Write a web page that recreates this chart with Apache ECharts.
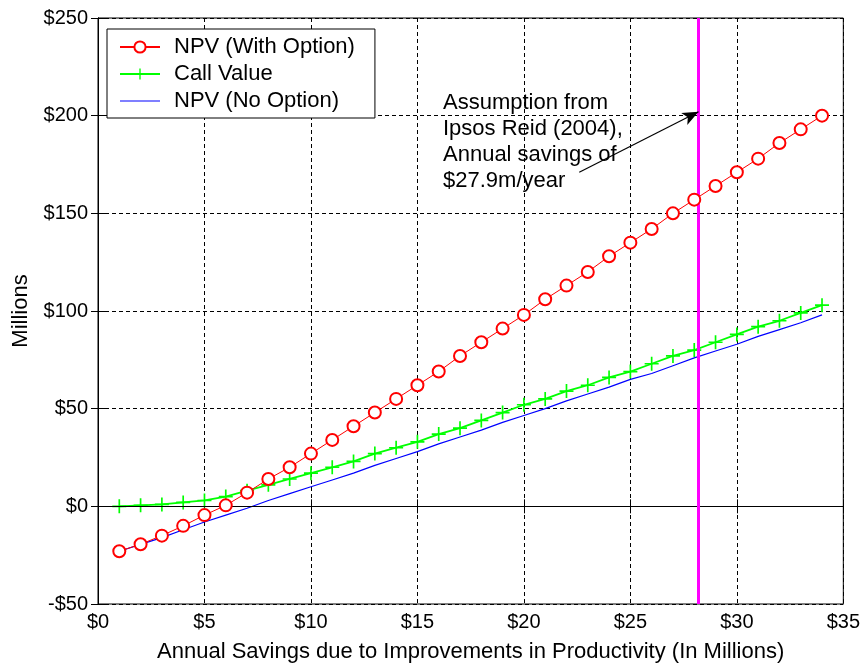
<!DOCTYPE html>
<html>
<head>
<meta charset="utf-8">
<script src="https://cdn.jsdelivr.net/npm/echarts@6/dist/echarts.min.js"></script>
<style>
  html, body { margin: 0; padding: 0; background: #fff; }
  #main { width: 863px; height: 668px; }
</style>
</head>
<body>
<div id="main"></div>
<script>
const savings = [1, 2, 3, 4, 5, 6, 7, 8, 9, 10, 11, 12, 13, 14, 15, 16, 17,
  18, 19, 20, 21, 22, 23, 24, 25, 26, 27, 28, 29, 30, 31, 32, 33, 34];
const npvWithOption = [-23, -19.4, -15, -10, -4.5, 0.5, 7, 14, 20, 27, 34, 41,
  48, 55, 62, 69, 77, 84, 91, 98, 106, 113, 120, 128, 135, 142, 150, 157, 164,
  171, 178, 186, 193, 200];
const callValue = [0, 0.5, 1, 2, 3, 5, 8, 11, 14, 17, 20, 23, 27, 30, 33, 37,
  40, 44, 48, 52, 55, 59, 62, 66, 69, 73, 77, 80, 84, 88, 92, 95, 99, 103];
const npvNoOption = [-23, -19.5, -16, -12, -8, -4.5, -1, 3, 6.5, 10, 13.5, 17,
  21, 24.5, 28, 32, 35.5, 39, 43, 46.5, 50, 54, 57.5, 61, 65, 68, 72, 76, 79.5,
  83, 87, 90.5, 94, 98];
const xTicks = [0, 5, 10, 15, 20, 25, 30, 35];
const yTicks = [-50, 0, 50, 100, 150, 200, 250];
const assumptionX = 28.2;
const arrowFrom = [22.6, 171];
const arrowTo = [28.2, 202];
const noteLines = ['Assumption from', 'Ipsos Reid (2004),', 'Annual savings of', '$27.9m/year'];

const font = 'Arial, "Liberation Sans", sans-serif';
const grid = { left: 98, right: 19, top: 18, bottom: 62 };
const dash = { color: '#000', width: 1, type: [4, 3] };
// plain line icon for the series without markers (tiny corner dots fix the box size)
const lineIcon = 'path://M0,0h0.1v0.1h-0.1z M0,6.4h40v1.2h-40z M39.9,13.9h0.1v0.1h-0.1z';

function pairs(ys) {
  return savings.map((x, i) => [x, ys[i]]);
}

const chart = echarts.init(document.getElementById('main'), null, { renderer: 'canvas' });

const xBase = {
  type: 'value', min: xTicks[0], max: xTicks[xTicks.length - 1], interval: 5
};
const yBase = {
  type: 'value', min: yTicks[0], max: yTicks[yTicks.length - 1], interval: 50
};
const tick = { show: true, inside: true, length: 7, lineStyle: { color: '#000' } };

chart.setOption({
  animation: false,
  backgroundColor: '#fff',
  textStyle: { fontFamily: font },
  grid: Object.assign({ show: true, borderColor: '#000', borderWidth: 1, backgroundColor: 'transparent' }, grid),
  legend: {
    left: 107, top: 29, orient: 'vertical',
    itemWidth: 40, itemHeight: 14, itemGap: 5,
    padding: [7, 20, 6, 12],
    borderColor: '#000', borderWidth: 1, backgroundColor: '#fff',
    textStyle: { fontFamily: font, fontSize: 22, lineHeight: 22, color: '#000', padding: [0, 0, 0, 9] },
    data: [
      'NPV (With Option)',
      'Call Value',
      { name: 'NPV (No Option)', icon: lineIcon }
    ]
  },
  xAxis: [
    Object.assign({}, xBase, {
      name: 'Annual Savings due to Improvements in Productivity (In Millions)',
      nameLocation: 'middle', nameGap: 37,
      nameTextStyle: { fontFamily: font, fontSize: 22, color: '#000' },
      axisLine: { show: true, lineStyle: { color: '#000' } },
      axisTick: tick,
      axisLabel: { fontFamily: font, fontSize: 20, color: '#000', margin: 8, formatter: v => '$' + v },
      splitLine: { show: true, lineStyle: dash }
    }),
    Object.assign({}, xBase, {
      position: 'top',
      axisLine: { show: true, lineStyle: { color: '#000' } },
      axisTick: tick,
      axisLabel: { show: false },
      splitLine: { show: false }
    })
  ],
  yAxis: [
    Object.assign({}, yBase, {
      name: 'Millions', nameLocation: 'middle', nameGap: 66, nameRotate: 90,
      nameTextStyle: { fontFamily: font, fontSize: 22, color: '#000' },
      axisLine: { show: true, lineStyle: { color: '#000' } },
      axisTick: tick,
      axisLabel: { fontFamily: font, fontSize: 20, color: '#000', margin: 10, formatter: v => (v < 0 ? '-$' + (-v) : '$' + v) },
      splitLine: { show: true, lineStyle: dash }
    }),
    Object.assign({}, yBase, {
      position: 'right',
      axisLine: { show: true, lineStyle: { color: '#000' } },
      axisTick: tick,
      axisLabel: { show: false },
      splitLine: { show: false }
    })
  ],
  series: [
    {
      name: 'NPV (No Option)', type: 'line', data: pairs(npvNoOption),
      symbol: 'none', color: '#0000ff',
      lineStyle: { color: '#0000ff', width: 1.2 }, z: 3,
      markLine: {
        silent: true, animation: false, symbol: 'none',
        label: { show: false },
        data: [
          { yAxis: 0, lineStyle: { color: '#000', width: 1, type: 'solid' } },
          { xAxis: assumptionX, lineStyle: { color: '#ff00ff', width: 3, type: 'solid' } },
          [
            { coord: arrowFrom, symbol: 'none', lineStyle: { color: '#000', width: 1.2, type: 'solid' } },
            { coord: arrowTo, symbol: 'arrow', symbolSize: [10, 16] }
          ]
        ]
      }
    },
    {
      name: 'Call Value', type: 'line', data: pairs(callValue),
      symbol: 'path://M4.4,0h1.2v4.4h4.4v1.2h-4.4v4.4h-1.2v-4.4h-4.4v-1.2h4.4z',
      symbolSize: 14, color: '#00ff00',
      itemStyle: { color: '#00ff00' },
      lineStyle: { color: '#00ff00', width: 1.8 }, z: 4
    },
    {
      name: 'NPV (With Option)', type: 'line', data: pairs(npvWithOption),
      symbol: 'emptyCircle', symbolSize: 12, color: '#ff0000',
      itemStyle: { color: '#ff0000', borderColor: '#ff0000', borderWidth: 1 },
      lineStyle: { color: '#ff0000', width: 1 }, z: 5
    }
  ],
  graphic: [{
    type: 'text', left: 443, top: 90, z: 10,
    style: {
      text: noteLines.join('\n'), fill: '#000',
      font: '22px ' + font, lineHeight: 26
    }
  }]
});
</script>
</body>
</html>
